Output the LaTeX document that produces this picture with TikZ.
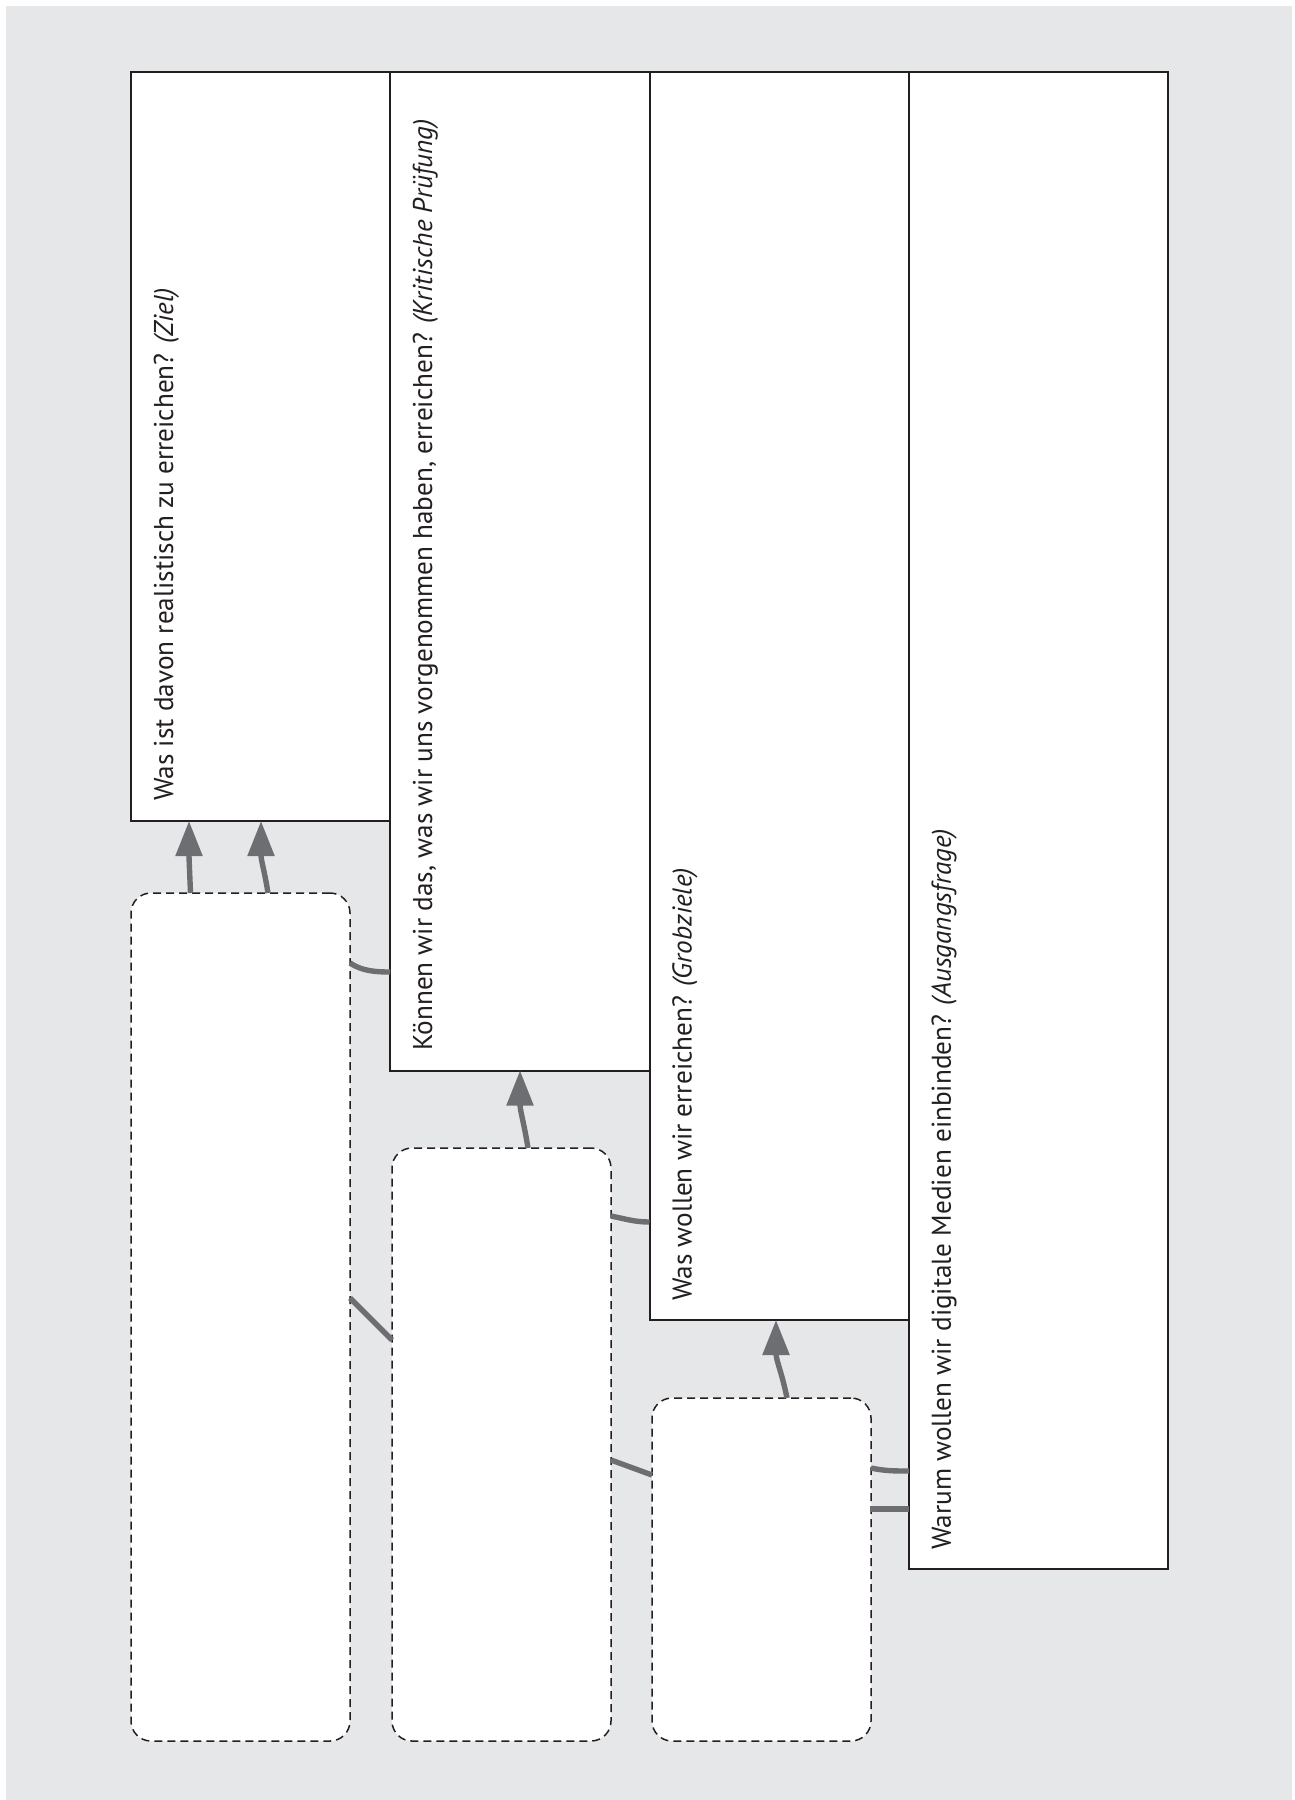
\documentclass[tikz,border=0pt]{standalone}
\usepackage{fontspec}
\setmainfont{PT Sans}
\usetikzlibrary{arrows.meta,calc}
\definecolor{bg}{HTML}{E6E7E8}
\definecolor{conn}{HTML}{6D6E71}
\definecolor{ink}{HTML}{231F20}
\tikzset{
  qbox/.style={draw=ink, line width=1pt, fill=white, rectangle, inner sep=0pt, outer sep=0pt, anchor=north west, minimum width=129.625pt},
  dbox/.style={draw=ink, line width=0.75pt, fill=white, rectangle, rounded corners=10pt, dash pattern=on 4pt off 2.5pt, inner sep=0pt, outer sep=0pt, anchor=north west, minimum width=109.5pt},
  lbl/.style={rotate=90, anchor=base west, inner sep=0pt, font=\fontsize{13.6}{16}\selectfont, text=ink},
  link/.style={draw=conn, line width=2.7pt},
  arr/.style={link, -{Triangle[width=13pt,length=17.5pt]}}
}
\begin{document}
\begin{tikzpicture}[x=0.5pt, y=-0.5pt]
\useasboundingbox (0,0) rectangle (1295,1800);
\fill[bg] (6,6) rectangle (1292,1800);
% question boxes
\node[qbox, minimum height=374.5pt] (b1) at (131,72) {};
\node[qbox, minimum height=499.25pt] (b2) at (390.25,72) {};
\node[qbox, minimum height=624pt] (b3) at (649.5,72) {};
\node[qbox, minimum height=748.5pt] (b4) at (908.75,72) {};
% labels
\node[lbl] (t1) at (173,801) {Was ist davon realistisch zu erreichen? \textit{(Ziel)}};
\node[lbl] (t2) at (432,1051) {Können wir das, was wir uns vorgenommen haben, erreichen? \textit{(Kritische Prüfung)}};
\node[lbl] (t3) at (691.5,1301) {Was wollen wir erreichen? \textit{(Grobziele)}};
\node[lbl] (t4) at (950.75,1550) {Warum wollen wir digitale Medien einbinden? \textit{(Ausgangsfrage)}};
% dashed boxes
\node[dbox, minimum height=424pt] (d1) at (131,893) {};
\node[dbox, minimum height=296.5pt] (d2) at (392,1148) {};
\node[dbox, minimum height=171.5pt] (d3) at (652,1398) {};
% arrows
\draw[arr] ($(d1.north west)+(59.5,0)$) .. controls +(-1,-25) and +(0,38) .. ($(b1.south west)+(58,0)$);
\draw[arr] ($(d1.north west)+(137,0)$) .. controls +(-4,-25) and +(0,40) .. ($(b1.south west)+(130,0)$);
\draw[arr] ($(d2.north west)+(136,0)$) .. controls +(-4,-25) and +(0,40) .. ($(b2.south west)+(129.75,0)$);
\draw[arr] ($(d3.north west)+(135,0)$) .. controls +(-5,-25) and +(0,40) .. ($(b3.south west)+(126.5,0)$);
% links
\draw[link] ($(d1.north east)+(0,70)$) .. controls +(12,8) and +(-15,0) .. ($(b2.north west)+(0,900)$);
\draw[link] ($(d1.north east)+(0,405)$) -- ($(d2.north west)+(0,192)$);
\draw[link] ($(d2.north east)+(0,68)$) .. controls +(15,3) and +(-15,0) .. ($(b3.north west)+(0,1150)$);
\draw[link] ($(d2.north east)+(0,312)$) -- ($(d3.north west)+(0,77)$);
\draw[link] ($(d3.north east)+(0,70)$) .. controls +(14,3) and +(-14,0) .. ($(b4.north west)+(0,1399)$);
\draw[link] ($(d3.north east)+(0,111)$) -- ($(b4.north west)+(0,1437)$);
\end{tikzpicture}
\end{document}
